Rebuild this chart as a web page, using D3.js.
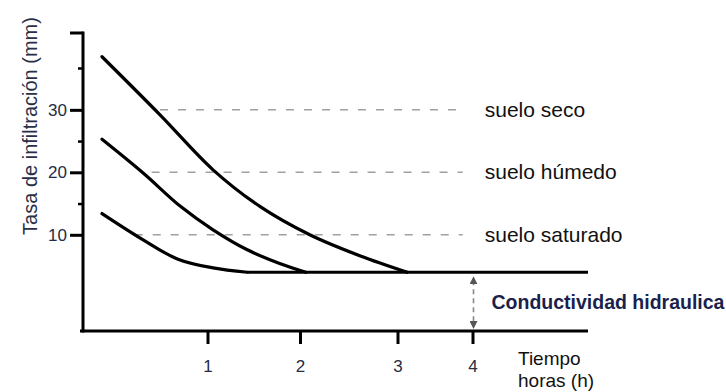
<!DOCTYPE html>
<html>
<head>
<meta charset="utf-8">
<script src="https://cdn.jsdelivr.net/npm/d3@7"></script>
<style>
    body { margin: 0; background: #fff; }
    text { font-family: Arial, "Liberation Sans", sans-serif; }
</style>
</head>
<body>
<div id="chart"></div>
<script>
// values: time in hours, rate in mm
var secoT = [0, 0.55, 1.06, 1.57, 2.1, 2.62, 3.13];
var secoV = [38.5, 29.2, 20.4, 14.5, 10.0, 6.6, 4.0];

var humedoT = [0, 0.39, 0.74, 1.06, 1.43, 1.78, 2.06];
var humedoV = [25.3, 19.9, 14.6, 10.8, 7.6, 5.4, 4.0];

var saturadoT = [0, 0.39, 0.72, 1.06, 1.43];
var saturadoV = [13.4, 9.2, 6.1, 4.7, 4.0];

var conductividad = 4.0;          // final (constant) rate
var baseT = [1.43, 5.54];         // extent of the flat part

var guideNames  = ["suelo seco", "suelo húmedo", "suelo saturado"];
var guideValues = [30, 20, 10];
var guideStart  = [0.55, 0.47, 0.31];
var guideEnd    = 3.87;

var xTicks = [1, 2, 3, 4];
var yMajor = [10, 20, 30];
var yMinor = [15, 25, 36.7];
var yExtent = [-5.4, 42.3];


var width = 726, height = 392;
var plot = {left: 83, top: 33, right: 588, bottom: 331};

var svg = d3.select("#chart").append("svg")
    .attr("width", width)
    .attr("height", height)
    .style("background", "#fff");

// the time axis of the drawing is hand made, so the ticks are not evenly spaced
var x = d3.scaleLinear()
    .domain([0, 1, 2, 3, 4])
    .range([102, 207.5, 300, 397.5, 472.5]);

var y = d3.scaleLinear()
    .domain(yExtent)
    .range([plot.bottom, plot.top]);

function pts(ts, vs) {
    return ts.map(function(t, i) { return [t, vs[i]]; });
}

var line = d3.line()
    .x(function(d) { return x(d[0]); })
    .y(function(d) { return y(d[1]); })
    .curve(d3.curveCatmullRom.alpha(0.5));

// dashed guide lines + labels
guideValues.forEach(function(v, i) {
    svg.append("line")
        .attr("x1", x(guideStart[i]))
        .attr("x2", x(guideEnd))
        .attr("y1", y(v))
        .attr("y2", y(v))
        .attr("stroke", "#a0a0a0")
        .attr("stroke-width", 1.5)
        .attr("stroke-dasharray", "8,10");

    svg.append("text")
        .attr("x", x(guideEnd) + 22)
        .attr("y", y(v) + 7)
        .style("font-size", "21px")
        .attr("fill", "#111")
        .text(guideNames[i]);
});

// the three curves
[pts(secoT, secoV), pts(humedoT, humedoV), pts(saturadoT, saturadoV)].forEach(function(d) {
    svg.append("path")
        .datum(d)
        .attr("d", line)
        .attr("fill", "none")
        .attr("stroke", "#000")
        .attr("stroke-width", 3.2)
        .attr("stroke-linecap", "round");
});

// flat line (conductividad)
svg.append("line")
    .attr("x1", x(baseT[0]))
    .attr("x2", x(baseT[1]))
    .attr("y1", y(conductividad))
    .attr("y2", y(conductividad))
    .attr("stroke", "#000")
    .attr("stroke-width", 3.2);

// arrow for the hydraulic conductivity
var defs = svg.append("defs");
defs.append("marker")
    .attr("id", "arr")
    .attr("viewBox", "0 0 10 10")
    .attr("refX", 5).attr("refY", 5)
    .attr("markerWidth", 5).attr("markerHeight", 5)
    .attr("orient", "auto-start-reverse")
    .append("path")
    .attr("d", "M0,0 L10,5 L0,10 z")
    .attr("fill", "#555");

svg.append("line")
    .attr("x1", x(4) + 1)
    .attr("x2", x(4) + 1)
    .attr("y1", y(conductividad) + 8)
    .attr("y2", plot.bottom - 6)
    .attr("stroke", "#888")
    .attr("stroke-width", 1.6)
    .attr("stroke-dasharray", "5,4")
    .attr("marker-start", "url(#arr)")
    .attr("marker-end", "url(#arr)");

svg.append("text")
    .attr("x", x(4) + 19)
    .attr("y", 308.5)
    .style("font-size", "19.5px")
    .style("font-weight", "bold")
    .attr("fill", "#1b1f4b")
    .text("Conductividad hidraulica");

// axes lines
svg.append("line")
    .attr("x1", plot.left).attr("x2", plot.left)
    .attr("y1", plot.top - 1.5).attr("y2", plot.bottom + 1.5)
    .attr("stroke", "#000").attr("stroke-width", 3);

svg.append("line")
    .attr("x1", plot.left - 13).attr("x2", plot.left)
    .attr("y1", plot.top).attr("y2", plot.top)
    .attr("stroke", "#000").attr("stroke-width", 3);

svg.append("line")
    .attr("x1", plot.left - 3).attr("x2", plot.right)
    .attr("y1", plot.bottom).attr("y2", plot.bottom)
    .attr("stroke", "#000").attr("stroke-width", 3);

// y ticks
var yAxis = d3.axisLeft(y)
    .tickValues(yMajor)
    .tickSize(13)
    .tickPadding(3)
    .tickFormat(d3.format("d"));

var gy = svg.append("g")
    .attr("transform", "translate(" + plot.left + ",0)")
    .call(yAxis);
gy.select(".domain").remove();
gy.selectAll("line").attr("stroke", "#000").attr("stroke-width", 3);
gy.selectAll("text")
    .style("font-size", "17px")
    .style("font-family", "Arial, 'Liberation Sans', sans-serif")
    .attr("fill", "#262c44");

var gyMinor = svg.append("g")
    .attr("transform", "translate(" + plot.left + ",0)")
    .call(d3.axisLeft(y).tickValues(yMinor).tickSize(5).tickFormat(""));
gyMinor.select(".domain").remove();
gyMinor.selectAll("line").attr("stroke", "#000").attr("stroke-width", 2.5);

// x ticks
var gx = svg.append("g")
    .attr("transform", "translate(0," + plot.bottom + ")")
    .call(d3.axisBottom(x).tickValues(xTicks).tickSize(13).tickPadding(16).tickFormat(d3.format("d")));
gx.select(".domain").remove();
gx.selectAll("line").attr("stroke", "#000").attr("stroke-width", 3);
gx.selectAll("text")
    .style("font-size", "17px")
    .style("font-family", "Arial, 'Liberation Sans', sans-serif")
    .attr("fill", "#262c44");

// axis titles
svg.append("text")
    .attr("text-anchor", "middle")
    .attr("transform", "translate(37,126)rotate(-90)")
    .style("font-size", "20px")
    .attr("fill", "#283048")
    .text("Tasa de infiltración (mm)");

svg.append("text")
    .attr("x", 518)
    .attr("y", 365)
    .style("font-size", "19px")
    .attr("fill", "#111")
    .text("Tiempo");

svg.append("text")
    .attr("x", 518)
    .attr("y", 387)
    .style("font-size", "19px")
    .attr("fill", "#111")
    .text("horas (h)");
</script>
</body>
</html>
